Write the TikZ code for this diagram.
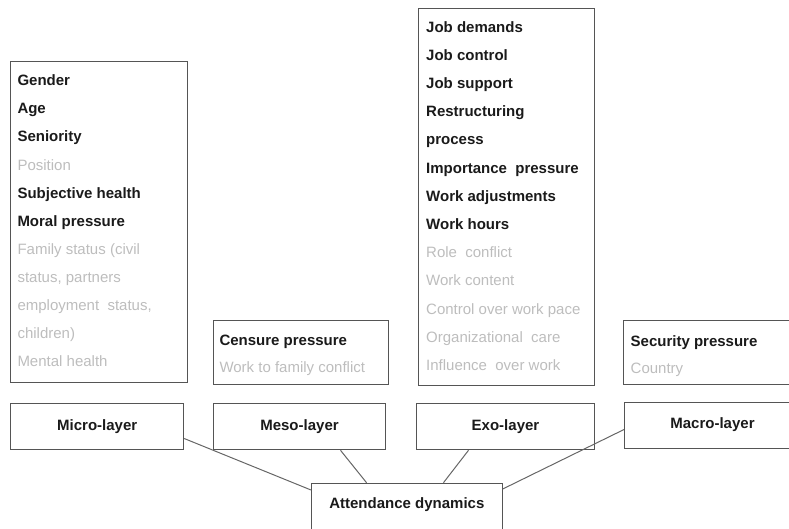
\documentclass[tikz,border=0pt]{standalone}
\usepackage{fontspec}
\setmainfont{Liberation Sans}
\begin{document}
\begin{tikzpicture}[x=1pt,y=-1pt,
  every node/.style={font=\fontsize{15}{18}\selectfont},
  box/.style={draw=bordergray,line width=1pt,rectangle,inner sep=0pt,anchor=north west},
  strong/.style={anchor=base west,inner sep=0pt,text=darktext,font=\fontsize{15}{18}\selectfont\bfseries},
  faint/.style={anchor=base west,inner sep=0pt,text=lighttext},
  layer/.style={draw=bordergray,line width=1pt,rectangle,inner sep=0pt,anchor=north west,text=darktext,font=\fontsize{15}{18}\selectfont\bfseries},
  link/.style={draw=linegray,line width=1pt}]
\definecolor{bordergray}{HTML}{555555}
\definecolor{linegray}{HTML}{666666}
\definecolor{darktext}{HTML}{1A1A1A}
\definecolor{lighttext}{HTML}{BDBDBD}
\useasboundingbox (0,0) rectangle (789,528);
\clip (0,0) rectangle (789,528);
% content boxes
\node[box,minimum width=176.5pt,minimum height=321pt] (microbox) at (10.2,60.5) {};
\node[box,minimum width=175.5pt,minimum height=64pt] (mesobox) at (212.5,320.3) {};
\node[box,minimum width=176.5pt,minimum height=377.5pt] (exobox) at (417.8,7.5) {};
\node[box,minimum width=190pt,minimum height=64pt] (macrobox) at (623,320.3) {};
% micro texts
\node[strong] (m1) at (17.3,85.7) {Gender};
\node[strong] (m2) at (17.3,113.8) {Age};
\node[strong] (m3) at (17.3,141.9) {Seniority};
\node[faint]  (m4) at (17.3,170.0) {Position};
\node[strong] (m5) at (17.3,198.1) {Subjective health};
\node[strong] (m6) at (17.3,226.2) {Moral pressure};
\node[faint]  (m7) at (17.3,254.3) {Family status (civil};
\node[faint]  (m8) at (17.3,282.4) {status, partners};
\node[faint]  (m9) at (17.3,310.5) {employment\ \ status,};
\node[faint]  (m10) at (17.3,338.6) {children)};
\node[faint]  (m11) at (17.3,366.7) {Mental health};
% meso texts
\node[strong] (s1) at (219.3,345.8) {Censure pressure};
\node[faint]  (s2) at (219.3,372.6) {Work to family conflict};
% exo texts
\node[strong] (e1) at (426,32.0) {Job demands};
\node[strong] (e2) at (426,60.2) {Job control};
\node[strong] (e3) at (426,88.4) {Job support};
\node[strong] (e4) at (426,116.6) {Restructuring};
\node[strong] (e5) at (426,144.8) {process};
\node[strong] (e6) at (426,173.0) {Importance\ \ pressure};
\node[strong] (e7) at (426,201.2) {Work adjustments};
\node[strong] (e8) at (426,229.4) {Work hours};
\node[faint]  (e9) at (426,257.6) {Role\ \ conflict};
\node[faint]  (e10) at (426,285.8) {Work content};
\node[faint]  (e11) at (426,314.0) {Control over work pace};
\node[faint]  (e12) at (426,342.2) {Organizational\ \ care};
\node[faint]  (e13) at (426,370.4) {Influence\ \ over work};
% macro texts
\node[strong] (c1) at (630.5,346) {Security pressure};
\node[faint]  (c2) at (630.5,373) {Country};
% layer boxes
\node[layer,minimum width=173pt,minimum height=46.6pt] (micro) at (10.2,402.7) {Micro-layer};
\node[layer,minimum width=172pt,minimum height=46.6pt] (meso) at (213,402.7) {Meso-layer};
\node[layer,minimum width=178pt,minimum height=46.6pt] (exo) at (416,402.7) {Exo-layer};
\node[layer,minimum width=176pt,minimum height=46.6pt,text depth=4pt] (macro) at (624,401.7) {Macro-layer};
\node[layer,minimum width=190.7pt,minimum height=52pt,text depth=12pt] (att) at (311,482.7) {Attendance dynamics};
% connectors
\draw[link] ([yshift=-12pt]micro.east) -- ([yshift=-7.3pt]att.north west);
\draw[link] ([xshift=41pt]meso.south) -- ([xshift=-40.3pt]att.north);
\draw[link] ([xshift=-37pt]exo.south) -- ([xshift=36.6pt]att.north);
\draw[link] ([yshift=-4pt]macro.west) -- ([yshift=-6.3pt]att.north east);
\end{tikzpicture}
\end{document}
